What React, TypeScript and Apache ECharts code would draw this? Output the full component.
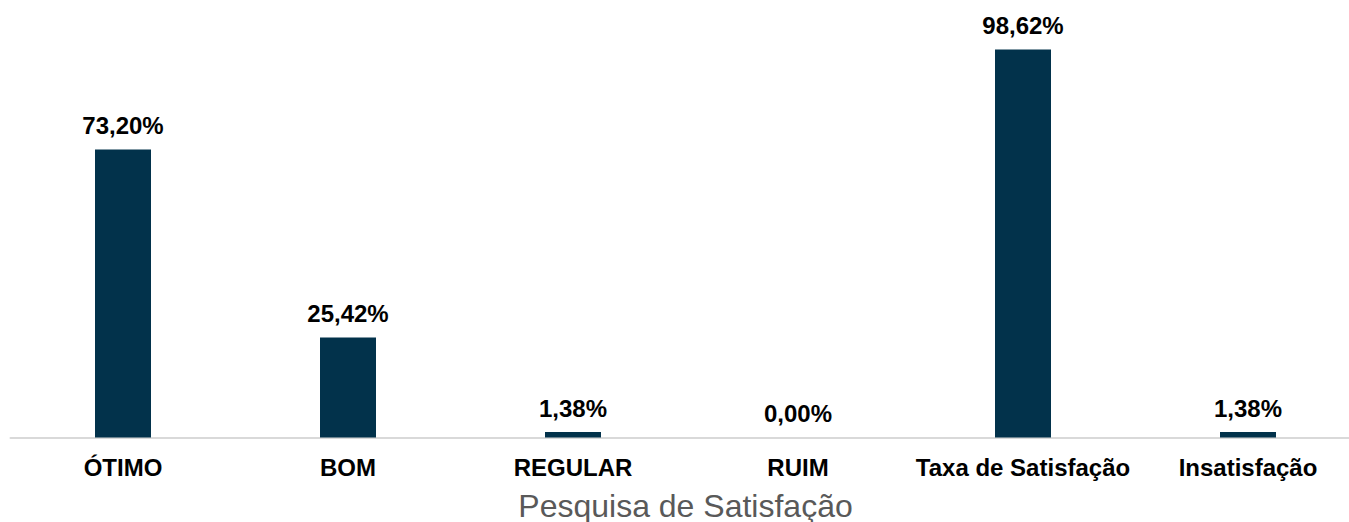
import React, { useEffect, useRef } from "react";
import * as echarts from "echarts";

const categories = ["ÓTIMO", "BOM", "REGULAR", "RUIM", "Taxa de Satisfação", "Insatisfação"];
const values = [73.2, 25.42, 1.38, 0.0, 98.62, 1.38];
const axisTitle = "Pesquisa de Satisfação";

const FONT = "'Liberation Sans', Arial, sans-serif";

export default function App() {
  const ref = useRef<HTMLDivElement>(null);
  useEffect(() => {
    if (!ref.current) return;
    const chart = echarts.init(ref.current, undefined, { renderer: "svg" });
    chart.setOption({
      animation: false,
      grid: {
        left: 10.5,
        width: 1350,
        top: 44.1,
        bottom: 84.5,
        containLabel: false,
        outerBoundsMode: "none",
      },
      xAxis: {
        type: "category",
        data: categories,
        name: axisTitle,
        nameLocation: "middle",
        nameGap: 52,
        nameTextStyle: { color: "#595959", fontSize: 32, fontFamily: FONT },
        axisLine: { show: true, lineStyle: { color: "#d9d9d9", width: 2 } },
        axisTick: { show: false },
        axisLabel: {
          color: "#000",
          fontSize: 24,
          fontWeight: "bold",
          fontFamily: FONT,
          margin: 18,
          interval: 0,
        },
      },
      yAxis: { type: "value", min: 0, max: 100, show: false, splitLine: { show: false } },
      series: [
        {
          type: "bar",
          data: values,
          barWidth: 56,
          itemStyle: { color: "#02324b" },
          label: {
            show: true,
            position: "top",
            distance: 12,
            color: "#000",
            fontSize: 24,
            fontWeight: "bold",
            fontFamily: FONT,
            formatter: (p: any) => p.value.toFixed(2).replace(".", ",") + "%",
          },
        },
      ],
    });
    return () => chart.dispose();
  }, []);
  return (
    <div style={{ position: "fixed", left: 0, top: 0, width: 1349, height: 522, overflow: "hidden", background: "#fff" }}>
      <div ref={ref} style={{ width: 1361, height: 522 }} />
    </div>
  );
}
